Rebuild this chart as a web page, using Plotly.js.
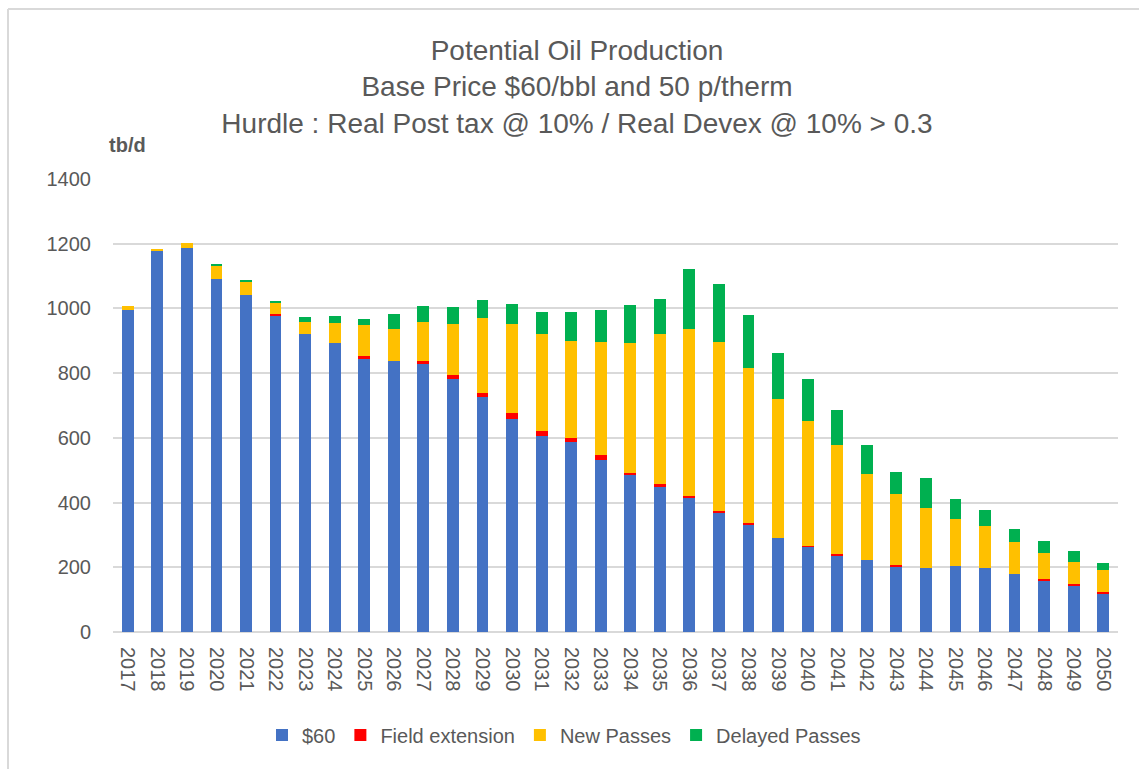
<!DOCTYPE html>
<html>
<head>
<meta charset="utf-8">
<script src="https://cdn.plot.ly/plotly-3.0.1.min.js"></script>
<style>
  html, body { margin: 0; padding: 0; background: #ffffff; }
  #chart { width: 1139px; height: 769px; }
</style>
</head>
<body>
<div id="chart"></div>
<script>
// ---- Data (tb/d) ----
const years = ["2017","2018","2019","2020","2021","2022","2023","2024","2025","2026",
               "2027","2028","2029","2030","2031","2032","2033","2034","2035","2036",
               "2037","2038","2039","2040","2041","2042","2043","2044","2045","2046",
               "2047","2048","2049","2050"];

const base60 = [996,1179,1186,1092,1040,976,921,893,845,837,
                828,782,725,658,607,586,531,484,448,416,
                369,330,290,263,234,222,203,198,203,198,
                178,160,143,120];

const fieldExtension = [0,0,0,0,0,8,0,0,8,0,
                        9,11,13,20,15,14,16,8,8,5,
                        4,8,0,4,8,0,4,0,0,0,
                        0,4,4,4];

const newPasses = [11,3,15,41,42,35,38,62,95,99,
                   121,158,233,273,298,300,348,402,464,515,
                   522,478,431,386,336,265,218,186,146,131,
                   99,81,70,67];

const delayedPasses = [0,0,0,5,4,4,13,21,20,47,
                       50,52,56,64,70,90,100,116,110,186,
                       180,163,142,128,108,91,71,91,63,48,
                       40,37,33,22];

const seriesNames = ["$60", "Field extension", "New Passes", "Delayed Passes"];
const seriesColors = ["#4472C4", "#FF0000", "#FFC000", "#00B050"];
const yTicks = [0, 200, 400, 600, 800, 1000, 1200, 1400];

const titleLines = [
  "Potential Oil Production",
  "Base Price $60/bbl and 50 p/therm",
  "Hurdle : Real Post tax @ 10% / Real Devex @ 10% > 0.3"
];
const unitLabel = "tb/d";

// ---- Traces ----
const seriesValues = [base60, fieldExtension, newPasses, delayedPasses];
const traces = seriesValues.map((vals, i) => ({
  type: "bar",
  name: seriesNames[i],
  x: years,
  y: vals,
  marker: { color: seriesColors[i], line: { width: 0 } },
  hovertemplate: "%{x}: %{y}<extra>" + seriesNames[i] + "</extra>"
}));

// ---- Layout geometry ----
const W = 1139, H = 769;
const M = { l: 113, r: 21, t: 179, b: 137 };
const plotW = W - M.l - M.r, plotH = H - M.t - M.b;
const px2paperX = px => (px - M.l) / plotW;
const px2paperY = py => (H - M.b - py) / plotH;

const font = "Liberation Sans, Arial, sans-serif";
const grey = "#595959";

const layout = {
  width: W,
  height: H,
  margin: M,
  paper_bgcolor: "#ffffff",
  plot_bgcolor: "#ffffff",
  font: { family: font, color: grey, size: 20 },
  barmode: "stack",
  bargap: 0.6,
  title: {
    text: titleLines.join("<br>"),
    font: { family: font, size: 28, color: grey },
    x: 577 / W, xref: "container", xanchor: "center",
    y: 1 - 60 / H, yref: "container", yanchor: "top"
  },
  xaxis: {
    type: "category",
    tickangle: 90,
    tickfont: { family: font, size: 20, color: grey },
    showgrid: false,
    showline: false,
    zeroline: false,
    ticks: "",
    ticklabelstandoff: 14,
    fixedrange: true
  },
  yaxis: {
    range: [0, 1400],
    tickvals: yTicks,
    ticktext: yTicks.map(String),
    tickfont: { family: font, size: 20, color: grey },
    showgrid: true,
    gridcolor: "#D9D9D9",
    gridwidth: 1.5,
    zeroline: true,
    zerolinecolor: "#D9D9D9",
    zerolinewidth: 1.5,
    showline: false,
    ticks: "",
    ticklabelstandoff: 21,
    fixedrange: true
  },
  legend: {
    orientation: "h",
    x: px2paperX(262), xanchor: "left",
    y: px2paperY(735), yanchor: "middle",
    font: { family: font, size: 20, color: grey },
    traceorder: "normal",
    itemclick: false
  },
  annotations: [{
    text: "<b>" + unitLabel + "</b>",
    xref: "paper", yref: "paper",
    x: px2paperX(127), y: px2paperY(145),
    xanchor: "center", yanchor: "middle",
    showarrow: false,
    font: { family: font, size: 20, color: grey }
  }],
  shapes: [
    { type: "line", xref: "paper", yref: "paper",
      x0: px2paperX(8), x1: px2paperX(W + 5), y0: px2paperY(9), y1: px2paperY(9),
      line: { color: "#D9D9D9", width: 2 } },
    { type: "line", xref: "paper", yref: "paper",
      x0: px2paperX(8), x1: px2paperX(8), y0: px2paperY(9), y1: px2paperY(H + 5),
      line: { color: "#D9D9D9", width: 2 } }
  ],
  showlegend: true
};

Plotly.newPlot("chart", traces, layout, { displayModeBar: false, staticPlot: false, responsive: false });
</script>
</body>
</html>
